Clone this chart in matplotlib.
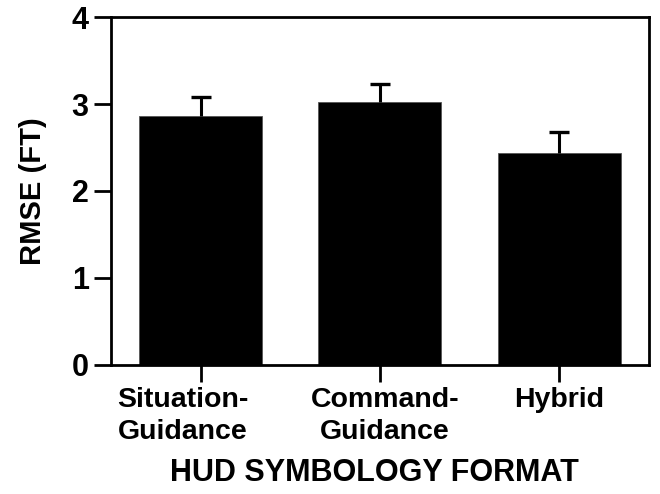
import matplotlib
matplotlib.use("Agg")
import matplotlib.pyplot as plt
import matplotlib.transforms as mtransforms
import numpy as np

# RMSE by HUD symbology format
formats = ["Situation-\nGuidance", "Command-\nGuidance", "Hybrid"]
rmse = [2.86, 3.02, 2.44]
rmse_err = [0.22, 0.21, 0.24]

plt.rcParams['font.family'] = ['Liberation Sans', 'DejaVu Sans']
plt.rcParams['font.weight'] = 'bold'

fig = plt.figure(figsize=(6.6, 4.94), dpi=100)
ax = fig.add_axes([0.168, 0.262, 0.815, 0.703])

index = np.arange(len(formats))
rmse = np.array(rmse)
rmse_err = np.array(rmse_err)

ax.bar(index, rmse, 0.685, color="black", edgecolor="#555555", linewidth=0.6,
       zorder=2)
# upper error bars only: stem plus a cap on top
ax.vlines(index, rmse, rmse + rmse_err, color="black", linewidth=2.2, zorder=3)
ax.plot(index, rmse + rmse_err, linestyle='none', marker='_', markersize=15,
        markeredgewidth=2.4, color="black", zorder=3)

ax.set_xlim(-0.5, 2.5)
ax.set_ylim(0, 4)
ax.set_yticks([0, 1, 2, 3, 4])
ax.set_xticks(index)
ax.set_xticklabels([""] * len(formats))
for lab in ax.get_yticklabels():
    lab.set_fontsize(22)
    lab.set_fontweight('bold')

# category labels, nudged the way they sit in the original
nudge = [-0.18, 0.05, 0.0]
for i, name in enumerate(formats):
    tr = ax.get_xaxis_transform() + mtransforms.ScaledTranslation(
        nudge[i], -16 / 72, fig.dpi_scale_trans)
    ax.text(i, 0, name, transform=tr, ha='center', va='top', fontsize=20.5,
            fontweight='bold', linespacing=1.3, multialignment='center')

for sp in ax.spines.values():
    sp.set_linewidth(2.0)
ax.tick_params(axis='both', direction='out', length=12, width=2.0)
ax.tick_params(axis='y', pad=4)

ax.set_ylabel("RMSE (FT)", fontsize=21, fontweight='bold', labelpad=18)
ax.set_xlabel("HUD SYMBOLOGY FORMAT", fontsize=22, fontweight='bold')
ax.xaxis.set_label_coords(0.49, -0.27)

fig.savefig("out.png", dpi=100)
